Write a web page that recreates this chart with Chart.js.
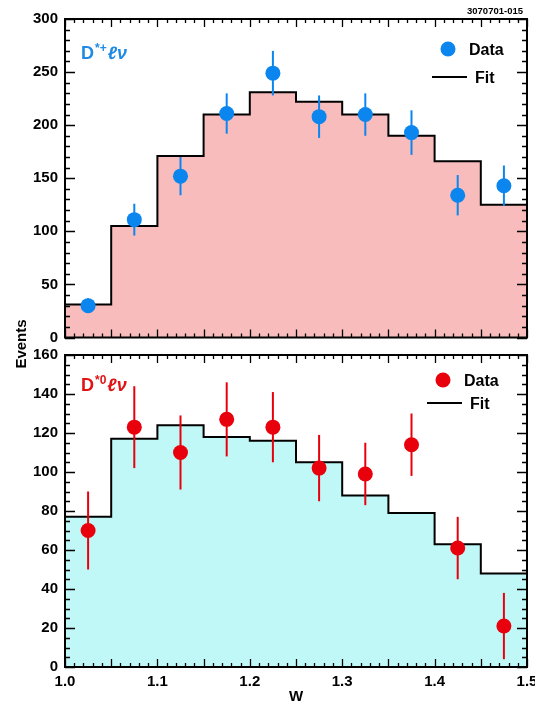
<!DOCTYPE html>
<html>
<head>
<meta charset="utf-8">
<script src="https://cdn.jsdelivr.net/npm/chart.js@4.4.0/dist/chart.umd.min.js"></script>
<style>
  html, body { margin: 0; padding: 0; background: #fff; }
  #wrap { position: relative; width: 535px; height: 706px; overflow: hidden; }
  #topChart { position: absolute; left: 0; top: 0; }
  #botChart { position: absolute; left: 0; top: 345px; }
  #ytitle {
    position: absolute; left: -29px; top: 335px; width: 100px; height: 18px;
    line-height: 18px; text-align: center; transform: rotate(-90deg);
    font: bold 15px "Liberation Sans", Arial, sans-serif; color: #000;
  }
</style>
</head>
<body>
<div id="wrap">
  <canvas id="topChart" width="535" height="345"></canvas>
  <canvas id="botChart" width="535" height="361"></canvas>
  <div id="ytitle">Events</div>
</div>
<script>
// bins in W
const binEdges = [1.0, 1.05, 1.1, 1.15, 1.2, 1.25, 1.3, 1.35, 1.4, 1.45, 1.5];
const binCenters = [1.025, 1.075, 1.125, 1.175, 1.225, 1.275, 1.325, 1.375, 1.425, 1.475];

// D*+ l nu (top panel)
const dstarPlusData = [30, 111, 152, 211, 249, 208, 210, 193, 134, 143];
const dstarPlusErr = [7, 15, 18, 19, 21, 20, 20, 21, 19, 19];
const dstarPlusFit = [31, 105, 171, 210, 231, 222, 210, 190, 166, 125];

// D*0 l nu (bottom panel)
const dstarZeroData = [70, 123, 110, 127, 123, 102, 99, 114, 61, 21];
const dstarZeroErr = [20, 21, 19, 19, 18, 17, 16, 16, 16, 17];
const dstarZeroFit = [77, 117, 124, 118, 116, 105, 88, 79, 63, 48];

const xTickLabels = ['1.0', '1.1', '1.2', '1.3', '1.4', '1.5'];

const FONT = '"Liberation Sans", "DejaVu Sans", Arial, sans-serif';

function stepPoints(fit) {
  const pts = fit.map((v, i) => ({ x: binEdges[i], y: v }));
  pts.push({ x: binEdges[binEdges.length - 1], y: fit[fit.length - 1] });
  return pts;
}

// error bars under the data points
const errorBarPlugin = {
  id: 'errorBars',
  beforeDatasetDraw(chart, args, opts) {
    if (args.index !== 0) return;
    const { ctx, scales: { x, y } } = chart;
    ctx.save();
    ctx.strokeStyle = opts.color;
    ctx.lineWidth = 2;
    opts.values.forEach((v, i) => {
      const px = x.getPixelForValue(binCenters[i]);
      ctx.beginPath();
      ctx.moveTo(px, y.getPixelForValue(v - opts.errors[i]));
      ctx.lineTo(px, y.getPixelForValue(v + opts.errors[i]));
      ctx.stroke();
    });
    ctx.restore();
  }
};

// box frame with inward ticks on all four sides
const framePlugin = {
  id: 'frame',
  afterDatasetsDraw(chart, args, opts) {
    const { ctx, chartArea: a, scales: { x, y } } = chart;
    ctx.save();
    ctx.strokeStyle = '#000';
    ctx.lineWidth = 1.3;
    ctx.beginPath();
    for (let i = 0; i <= 50; i++) {
      const px = Math.round(x.getPixelForValue(1 + i * 0.01)) + 0.5;
      const len = i % 5 === 0 ? 8 : 4;
      ctx.moveTo(px, a.bottom); ctx.lineTo(px, a.bottom - len);
      ctx.moveTo(px, a.top); ctx.lineTo(px, a.top + len);
    }
    for (let v = 0; v <= opts.yMax; v += opts.yMinor) {
      const py = Math.round(y.getPixelForValue(v)) + 0.5;
      const len = v % opts.yMajor === 0 ? 10 : 5;
      ctx.moveTo(a.left, py); ctx.lineTo(a.left + len, py);
      ctx.moveTo(a.right, py); ctx.lineTo(a.right - len, py);
    }
    ctx.stroke();
    ctx.lineWidth = 2;
    ctx.strokeRect(a.left, a.top, a.right - a.left, a.bottom - a.top);
    ctx.restore();
  }
};

// panel label and legend
const textPlugin = {
  id: 'panelText',
  afterDraw(chart, args, o) {
    const { ctx, chartArea: a } = chart;
    ctx.save();
    ctx.textBaseline = 'alphabetic';
    ctx.textAlign = 'left';
    // process label
    let tx = a.left + 16;
    const ty = a.top + o.labelDy;
    ctx.fillStyle = o.labelColor;
    ctx.font = 'bold 18px ' + FONT;
    ctx.fillText('D', tx, ty);
    tx += ctx.measureText('D').width + 1;
    ctx.font = 'bold 12px ' + FONT;
    ctx.fillText(o.sup, tx, ty - 7);
    tx += ctx.measureText(o.sup).width + 1;
    ctx.font = 'italic bold 18px ' + FONT;
    ctx.fillText('\u2113\u03BD', tx, ty);

    // legend
    ctx.fillStyle = o.pointColor;
    ctx.beginPath();
    ctx.arc(o.dotX, a.top + o.dotY, 7.5, 0, Math.PI * 2);
    ctx.fill();
    ctx.fillStyle = '#000';
    ctx.font = 'bold 16px ' + FONT;
    ctx.fillText('Data', o.dotX + 21, a.top + o.dotY + 6);
    ctx.strokeStyle = '#000';
    ctx.lineWidth = 2;
    ctx.beginPath();
    ctx.moveTo(o.dotX - 16, a.top + o.fitY);
    ctx.lineTo(o.dotX + 19, a.top + o.fitY);
    ctx.stroke();
    ctx.fillText('Fit', o.dotX + 27, a.top + o.fitY + 6);

    if (o.tag) {
      ctx.font = 'bold 9.5px ' + FONT;
      ctx.textAlign = 'right';
      ctx.fillText(o.tag, a.right - 4, 14);
    }
    ctx.restore();
  }
};

function makeChart(canvasId, cfg) {
  return new Chart(document.getElementById(canvasId).getContext('2d'), {
    type: 'scatter',
    data: {
      datasets: [{
        label: 'Data',
        data: cfg.data.map((v, i) => ({ x: binCenters[i], y: v })),
        pointRadius: 7.5,
        pointBackgroundColor: cfg.pointColor,
        pointBorderWidth: 0,
        showLine: false
      }, {
        label: 'Fit',
        type: 'line',
        data: stepPoints(cfg.fit),
        stepped: 'before',
        borderColor: '#000',
        borderWidth: 2,
        backgroundColor: cfg.fillColor,
        fill: 'origin',
        pointRadius: 0
      }]
    },
    options: {
      responsive: false,
      animation: false,
      layout: { padding: cfg.padding },
      scales: {
        x: {
          type: 'linear',
          min: 1.0,
          max: 1.5,
          display: cfg.showX,
          grid: { display: false, drawTicks: false },
          border: { display: false },
          ticks: {
            stepSize: 0.1,
            padding: 6,
            color: '#000',
            font: { family: FONT, size: 15, weight: 'bold' },
            maxRotation: 0,
            callback: (v) => xTickLabels[Math.round((v - 1) * 10)]
          },
          title: {
            display: cfg.showX,
            text: 'W',
            color: '#000',
            padding: 0,
            font: { family: FONT, size: 15, weight: 'bold' }
          },
          afterFit: (s) => {
            s.paddingLeft = 0; s.paddingRight = 0;
            if (cfg.showX) s.height = 39;
          }
        },
        y: {
          min: 0,
          max: cfg.yMax,
          grid: { display: false, drawTicks: false },
          border: { display: false },
          ticks: {
            stepSize: cfg.yMajor,
            padding: 7,
            color: '#000',
            font: { family: FONT, size: 15, weight: 'bold' }
          },
          afterFit: (s) => { s.width = 65; s.paddingTop = 0; s.paddingBottom = 0; }
        }
      },
      plugins: {
        legend: { display: false },
        tooltip: { enabled: false },
        errorBars: { values: cfg.data, errors: cfg.err, color: cfg.pointColor },
        frame: { yMax: cfg.yMax, yMajor: cfg.yMajor, yMinor: cfg.yMinor },
        panelText: cfg.text
      }
    },
    plugins: [errorBarPlugin, framePlugin, textPlugin]
  });
}

makeChart('topChart', {
  data: dstarPlusData, err: dstarPlusErr, fit: dstarPlusFit,
  pointColor: '#0b86ee', fillColor: '#f8bcbc',
  yMax: 300, yMajor: 50, yMinor: 10,
  showX: false,
  padding: { left: 0, right: 8, top: 19, bottom: 6 },
  text: { labelColor: '#1e8ae4', sup: '*+', labelDy: 40, pointColor: '#0b86ee',
          dotX: 448, dotY: 30, fitY: 58, tag: '3070701-015' }
});

makeChart('botChart', {
  data: dstarZeroData, err: dstarZeroErr, fit: dstarZeroFit,
  pointColor: '#e8000c', fillColor: '#c0f8f8',
  yMax: 160, yMajor: 20, yMinor: 5,
  showX: true,
  padding: { left: 0, right: 8, top: 10, bottom: 0 },
  text: { labelColor: '#e01414', sup: '*0', labelDy: 36, pointColor: '#e8000c',
          dotX: 443, dotY: 25, fitY: 48, tag: '' }
});
</script>
</body>
</html>
